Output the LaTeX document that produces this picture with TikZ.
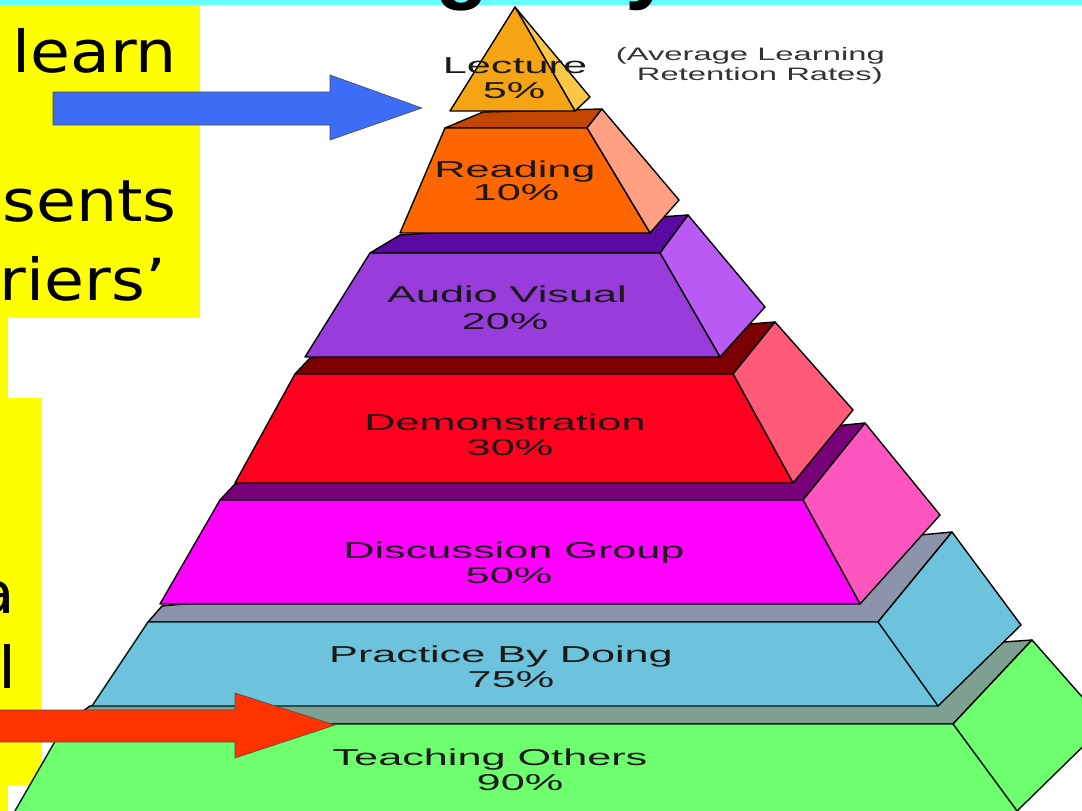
\documentclass[tikz,border=0pt]{standalone}
\usepackage{fontspec}
\setmainfont{Liberation Sans}
\newfontfamily\handfont{DejaVu Sans}
\usepackage{graphicx}
\definecolor{bandcyan}{RGB}{102, 255, 255}
\definecolor{notesyellow}{RGB}{255, 255, 0}
\definecolor{arrowblue}{RGB}{61, 108, 245}
\definecolor{arrowred}{RGB}{255, 51, 0}
\definecolor{lecfront}{RGB}{245, 165, 20}
\definecolor{lecside}{RGB}{250, 200, 70}
\definecolor{readfront}{RGB}{255, 102, 0}
\definecolor{readtop}{RGB}{195, 70, 0}
\definecolor{readside}{RGB}{255, 160, 130}
\definecolor{avfront}{RGB}{153, 60, 220}
\definecolor{avtop}{RGB}{90, 10, 160}
\definecolor{avside}{RGB}{185, 90, 245}
\definecolor{demofront}{RGB}{255, 0, 30}
\definecolor{demotop}{RGB}{125, 0, 0}
\definecolor{demoside}{RGB}{255, 90, 120}
\definecolor{discfront}{RGB}{255, 0, 255}
\definecolor{disctop}{RGB}{120, 0, 120}
\definecolor{discside}{RGB}{255, 85, 190}
\definecolor{pracfront}{RGB}{110, 195, 220}
\definecolor{practop}{RGB}{140, 148, 170}
\definecolor{teachfront}{RGB}{110, 255, 110}
\definecolor{teachtop}{RGB}{125, 160, 145}
\newcommand{\wide}[1]{\scalebox{1.88}[1]{#1}}
\newcommand{\handwide}[1]{\scalebox{1.12}[1]{#1}}

\begin{document}
\begin{tikzpicture}[x=1pt, y=-1pt,
  face/.style={draw=black, line width=1.4pt, line join=round},
  lbl/.style={anchor=base, inner sep=0pt, font=\fontsize{23}{26}\selectfont, text=black!90},
  hand/.style={anchor=base east, inner sep=0pt, font=\handfont\fontsize{58}{60}\selectfont}]
\useasboundingbox (0,0) rectangle (1082,811);
\fill[white] (0,0) rectangle (1082,811);

% Yellow notes and title band
\fill[notesyellow] (0,0) rectangle (200,318);
\fill[notesyellow] (0,0) rectangle (8,811);
\fill[notesyellow] (0,398) rectangle (42,785);
\fill[bandcyan] (0,0) rectangle (1082,5);
\node[anchor=base west, inner sep=0pt, font=\bfseries\fontsize{88}{88}\selectfont] (titleg) at (435,-8) {g};
\node[anchor=base west, inner sep=0pt, font=\bfseries\fontsize{88}{88}\selectfont] (titley) at (625,-8) {y};

% Teaching Others
\filldraw[face, fill=teachtop] (65,724) -- (90,706) -- (1032,640) -- (953,724) -- cycle;
\filldraw[face, fill=teachfront] (953,724) -- (1032,640) -- (1106,724) -- (1017,811) -- cycle;
\filldraw[face, draw=black!80!teal, fill=teachfront] (65,724) -- (953,724) -- (1031,830) -- (4,830) -- cycle;

% Practice By Doing
\filldraw[face, fill=practop] (148,622) -- (162,606) -- (952,532) -- (878,622) -- cycle;
\filldraw[face, fill=pracfront] (878,622) -- (952,532) -- (1021,625) -- (938,706) -- cycle;
\filldraw[face, draw=black!80!teal, fill=pracfront] (148,622) -- (878,622) -- (938,706) -- (92,706) -- cycle;

% Discussion Group
\filldraw[face, fill=disctop] (220,500) -- (235,484) -- (865,423) -- (803,500) -- cycle;
\filldraw[face, fill=discside] (803,500) -- (865,423) -- (940,515) -- (860,604) -- cycle;
\filldraw[face, fill=discfront] (220,500) -- (803,500) -- (860,604) -- (160,604) -- cycle;

% Demonstration
\filldraw[face, fill=demotop] (295,374) -- (310,358) -- (775,322) -- (733,374) -- cycle;
\filldraw[face, fill=demoside] (733,374) -- (775,322) -- (853,410) -- (793,483) -- cycle;
\filldraw[face, fill=demofront] (295,374) -- (733,374) -- (793,483) -- (235,483) -- cycle;

% Audio Visual
\filldraw[face, fill=avtop] (370,253) -- (400,235) -- (688,215) -- (660,253) -- cycle;
\filldraw[face, fill=avside] (660,253) -- (688,215) -- (765,307) -- (720,357) -- cycle;
\filldraw[face, fill=avfront] (370,253) -- (660,253) -- (720,357) -- (305,357) -- cycle;

% Reading
\filldraw[face, fill=readtop] (445,128) -- (483,112) -- (602,109) -- (587,128) -- cycle;
\filldraw[face, fill=readside] (587,128) -- (602,109) -- (679,200) -- (650,233) -- cycle;
\filldraw[face, fill=readfront] (445,128) -- (587,128) -- (650,233) -- (400,233) -- cycle;

% Lecture
\filldraw[face, fill=lecside] (515,7) -- (590,97) -- (575,111) -- cycle;
\filldraw[face, fill=lecfront] (515,7) -- (575,111) -- (450,111) -- cycle;

% Layer labels
\node[lbl] (lecture) at (515,73) {\wide{Lecture}};
\node[lbl] (lecturepct) at (514,98) {\wide{5\%}};
\node[lbl] (reading) at (515,177) {\wide{Reading}};
\node[lbl] (readingpct) at (516,200) {\wide{10\%}};
\node[lbl] (audiovisual) at (507,302) {\wide{Audio Visual}};
\node[lbl] (audiovisualpct) at (505,329) {\wide{20\%}};
\node[lbl] (demo) at (505,430) {\wide{Demonstration}};
\node[lbl] (demopct) at (510,455) {\wide{30\%}};
\node[lbl] (discussion) at (514,558) {\wide{Discussion Group}};
\node[lbl] (discussionpct) at (509,583) {\wide{50\%}};
\node[lbl] (practice) at (501,662) {\wide{Practice By Doing}};
\node[lbl] (practicepct) at (511,687) {\wide{75\%}};
\node[lbl] (teaching) at (490,765) {\wide{Teaching Others}};
\node[lbl] (teachingpct) at (520,790) {\wide{90\%}};

% Caption
\node[anchor=base east, inner sep=0pt, font=\fontsize{18}{20}\selectfont, text=black!80] (caption1) at (885,60) {\scalebox{1.82}[1]{(Average Learning}};
\node[anchor=base east, inner sep=0pt, font=\fontsize{18}{20}\selectfont, text=black!80] (caption2) at (883,80) {\scalebox{1.82}[1]{Retention Rates)}};

% Notes text
\node[hand] (learn) at (177,72) {\handwide{learn}};
\node[hand] (sents) at (177,221) {\handwide{sents}};
\node[hand] (riers) at (166,300) {\handwide{riers’}};
\node[hand] (notea) at (16,613) {\handwide{a}};
\node[hand] (notel) at (17,688) {\handwide{l}};

% Arrows
\coordinate (bluetip) at (422,108);
\coordinate (redtip) at (335,725);
\filldraw[fill=arrowblue, draw=black!70, line width=0.6pt] (53,92) -- (330,92) -- (330,75) -- (bluetip) -- (330,140) -- (330,125) -- (53,125) -- cycle;
\filldraw[fill=arrowred, draw=black!70, line width=0.6pt] (-5,710) -- (235,710) -- (235,693) -- (redtip) -- (235,758) -- (235,742) -- (-5,742) -- cycle;
\end{tikzpicture}
\end{document}
